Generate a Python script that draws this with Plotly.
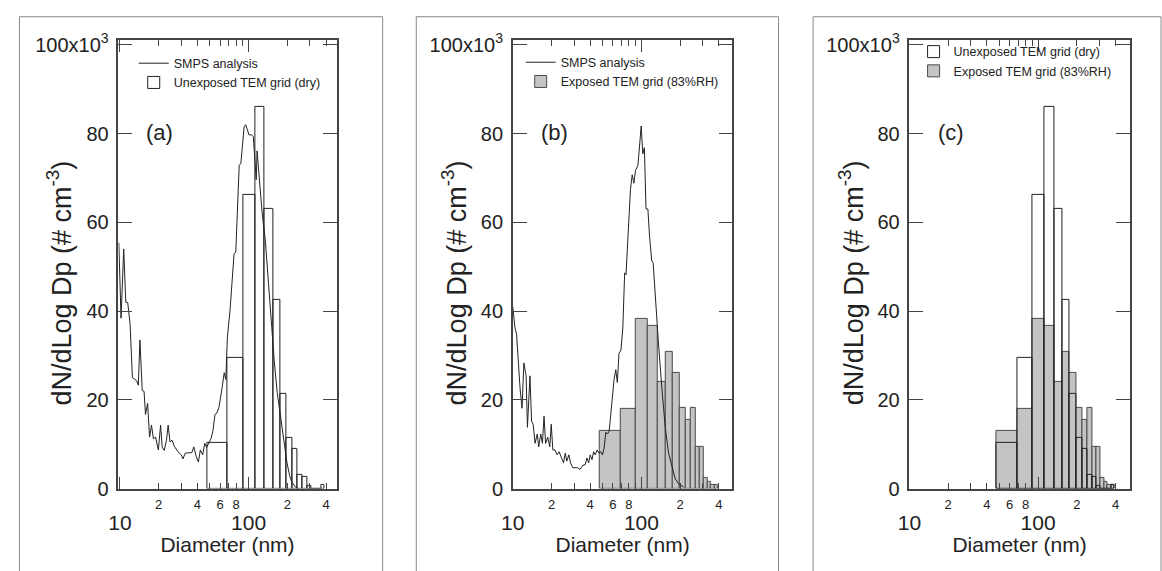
import plotly.graph_objects as go

FONT = "Liberation Sans, Arial, sans-serif"
INK = "#222222"
AXIS = "#444444"

# TEM size-distribution histogram: bin edges (nm) and dN/dlogDp (cm^-3) per bin
bin_edges = [47.5, 69, 90.5, 112, 133.5, 155, 176.5, 198, 219.5, 241, 262.5,
             284, 305.5, 327, 348.5, 370, 391.5]
unexposed_dry = [10300, 29500, 66200, 86000, 63000, 42600, 21400, 11500, 9000,
                 3200, 2700, 500, 0, 0, 0, 800]
exposed_83rh = [13000, 18000, 38200, 36600, 24100, 30700, 26000, 18200, 15500,
                18200, 9300, 9500, 2500, 1600, 900, 900]

# SMPS scans (diameter in nm, dN/dlogDp in cm^-3)
smps_a_dp = [9.8, 10.2, 10.7, 11.1, 11.5, 12.0, 12.5, 13.5, 13.9, 14.3, 14.9,
             15.4, 15.8, 16.4, 17.0, 17.6, 18.2, 18.9, 19.9, 20.7, 21.3, 22.1,
             23.0, 23.7, 24.5, 25.4, 26.6, 28.3, 30.0, 30.9, 32.2, 34.2, 36.2,
             37.5, 39.1, 40.7, 42.2, 44.0, 45.6, 47.2, 48.9, 51.0, 52.8, 54.8,
             56.7, 59.0, 62.1, 64.6, 66.5, 68.4, 71.6, 74.8, 77.1, 79.5, 82.0,
             84.5, 87.1, 89.7, 92.3, 95.0, 97.9, 100.7, 105.2, 108.8, 112.0,
             114.6, 116.4, 119.9, 127.2, 135.0, 143.4, 152.2, 158.7, 166.7,
             176.6, 187.3, 198.8, 208.5, 216.8, 230.1, 244.0]
smps_a_dn = [55400, 38400, 54000, 42000, 41900, 37000, 25000, 24300, 23300,
             33500, 22100, 21900, 16700, 19200, 11600, 14300, 11200, 11600,
             8700, 14300, 9300, 8600, 10900, 14300, 10500, 10900, 9400, 8300,
             7600, 6700, 8000, 8000, 8100, 9400, 7300, 6000, 8700, 7600, 10200,
             9300, 10300, 11200, 13000, 16700, 17000, 18500, 22500, 26100,
             24600, 34100, 39900, 47100, 52900, 53300, 64500, 72800, 73300,
             78300, 81500, 82000, 80800, 79700, 79700, 79300, 73900, 69600,
             76100, 71000, 62300, 55800, 45700, 34100, 28300, 21700, 16700,
             10900, 5800, 2900, 1500, 400, 0]

smps_b_dp = [10.0, 10.4, 10.7, 11.1, 11.4, 11.8, 12.2, 12.7, 13.0, 13.6, 14.0,
             14.4, 14.9, 15.5, 15.9, 16.5, 17.0, 17.5, 18.0, 18.7, 19.4, 19.9,
             20.5, 21.3, 22.1, 22.9, 23.8, 24.8, 25.6, 26.3, 27.3, 28.1, 29.3,
             30.7, 32.0, 33.3, 34.9, 36.6, 37.7, 38.9, 40.0, 41.3, 42.5, 43.7,
             45.3, 46.8, 48.3, 49.8, 51.3, 52.9, 54.5, 56.2, 58.8, 61.3, 63.2,
             65.0, 66.9, 69.3, 71.7, 74.1, 75.9, 78.3, 82.2, 84.8, 87.4, 90.0,
             93.9, 95.6, 99.6, 102.5, 105.5, 108.6, 112.3, 115.4, 120.1, 123.5,
             129.2, 135.8, 144.4, 153.2, 162.6, 172.7, 183.2, 194.5, 212.5]
smps_b_dn = [41000, 36200, 34800, 26100, 22500, 18100, 28300, 25400, 13800,
             25400, 15200, 14500, 10200, 12300, 9400, 12300, 10200, 16300,
             10200, 11600, 9400, 14500, 8700, 8700, 7600, 8300, 6900, 5800,
             8000, 6200, 7600, 5800, 4700, 4700, 4700, 4300, 5200, 5400, 6900,
             5800, 7600, 6500, 8300, 7600, 8700, 8000, 8300, 7600, 9100, 12700,
             12300, 13000, 19600, 24600, 26800, 23900, 30400, 31200, 36200,
             48600, 48200, 56500, 67400, 70700, 68800, 71700, 72800, 75400,
             81700, 75400, 76800, 63000, 63000, 57300, 51500, 50700, 41300,
             32600, 22500, 13800, 8000, 5100, 2200, 1100, 400]

# axis ticks
y_tickvals = [0, 20000, 40000, 60000, 80000, 100000]
y_ticktext = ["0", "20", "40", "60", "80", "100x10<sup>3</sup>"]
x_digit_vals = [20, 40, 60, 80, 200, 400]
x_digit_text = ["2", "4", "6", "8", "2", "4"]
x_unlabelled_vals = [30, 50, 70, 90, 300]
x_major_vals = [10, 100]
x_major_text = ["10", "100"]

panel_labels = ["(a)", "(b)", "(c)"]
y_title = "dN/dLog Dp (# cm<sup>-3</sup>)"
x_title = "Diameter (nm)"

bin_centers = [(lo + hi) / 2 for lo, hi in zip(bin_edges[:-1], bin_edges[1:])]
bin_widths = [hi - lo for lo, hi in zip(bin_edges[:-1], bin_edges[1:])]

W, H = 1162, 571
# plot-area pixel extents of each panel
panel_px = [(107.5, 328.0), (506.0, 728.0), (906.8, 1129.3)]
x_ranges = [[0.988, 2.684], [1.0, 2.708], [1.0, 2.711]]
y_top_px, y_bot_px = 32.0, 497.0
frames_px = [(7.5, 374.5), (408.5, 774.5), (809.5, 1161.0)]
legend_pos = [(123, 41), (514, 40), (911, 29)]
ytitle_x = [48, 447, 848]


def lg(i):
    return "legend" if i == 1 else f"legend{i}"


def unexposed_bar(i):
    return go.Bar(x=bin_centers, y=unexposed_dry, width=bin_widths,
                  name="Unexposed TEM grid (dry)",
                  marker=dict(color="rgba(255,255,255,0)",
                              line=dict(color=INK, width=1)),
                  xaxis=f"x{i}", yaxis=f"y{i}", legend=lg(i), legendrank=2)


def exposed_bar(i):
    return go.Bar(x=bin_centers, y=exposed_83rh, width=bin_widths,
                  name="Exposed TEM grid (83%RH)",
                  marker=dict(color="#c4c4c4", line=dict(color="#4a4a4a", width=1)),
                  xaxis=f"x{i}", yaxis=f"y{i}", legend=lg(i), legendrank=3)


def smps_line(i, dp, dn):
    return go.Scatter(x=dp, y=dn, mode="lines", name="SMPS analysis",
                      line=dict(color=INK, width=1),
                      xaxis=f"x{i}", yaxis=f"y{i}", legend=lg(i), legendrank=1)


fig = go.Figure()
# (a) SMPS vs unexposed grid
fig.add_trace(unexposed_bar(1))
fig.add_trace(smps_line(1, smps_a_dp, smps_a_dn))
# (b) SMPS vs exposed grid
fig.add_trace(exposed_bar(2))
fig.add_trace(smps_line(2, smps_b_dp, smps_b_dn))
# (c) both grids
fig.add_trace(exposed_bar(3))
fig.add_trace(unexposed_bar(3))

# empty traces so the decade-label axes (x4..x6) get drawn
for i in range(1, 4):
    fig.add_trace(go.Scatter(x=[None], y=[None], xaxis=f"x{i + 3}", yaxis=f"y{i}",
                             showlegend=False, hoverinfo="skip"))

layout = dict(
    width=W, height=H, autosize=False,
    margin=dict(l=0, r=0, t=0, b=0, pad=0),
    paper_bgcolor="white", plot_bgcolor="white",
    barmode="overlay", bargap=0,
    font=dict(family=FONT, color=INK),
    shapes=[], annotations=[],
)

ydom = [1 - y_bot_px / H, 1 - y_top_px / H]
for k in range(3):
    i = k + 1
    ov = i + 3
    x0, x1 = panel_px[k]
    xdom = [x0 / W, x1 / W]
    sfx = "" if i == 1 else str(i)
    layout[f"xaxis{sfx}"] = dict(
        domain=xdom, anchor=f"y{sfx}", type="log", range=x_ranges[k],
        tickmode="array", tickvals=x_digit_vals, ticktext=x_digit_text,
        ticks="inside", ticklen=6, tickwidth=1, tickcolor=AXIS,
        minor=dict(tickmode="array", tickvals=x_unlabelled_vals, ticks="inside",
                   ticklen=6, tickwidth=1, tickcolor=AXIS, showgrid=False),
        showline=True, linecolor=AXIS, linewidth=1.5, mirror="ticks",
        showgrid=False, zeroline=False,
        tickfont=dict(size=13, family=FONT, color=INK), ticklabelstandoff=3,
        title=dict(text=x_title, font=dict(size=21, family=FONT, color=INK),
                   standoff=26),
    )
    layout[f"xaxis{ov}"] = dict(
        overlaying=f"x{sfx}", anchor=f"y{sfx}", type="log", range=x_ranges[k],
        tickmode="array", tickvals=x_major_vals, ticktext=x_major_text,
        ticks="inside", ticklen=12, tickwidth=1, tickcolor=AXIS,
        showline=False, mirror="ticks", showgrid=False, zeroline=False,
        tickfont=dict(size=21, family=FONT, color=INK), ticklabelstandoff=19,
    )
    layout[f"yaxis{sfx}"] = dict(
        domain=ydom, anchor=f"x{sfx}", range=[0, 101100],
        tickmode="array", tickvals=y_tickvals, ticktext=y_ticktext,
        ticks="inside", ticklen=14, tickwidth=1, tickcolor=AXIS,
        showline=True, linecolor=AXIS, linewidth=1.5, mirror="ticks",
        showgrid=False, zeroline=False,
        tickfont=dict(size=20, family=FONT, color=INK), ticklabelstandoff=4,
    )
    lx, ly = legend_pos[k]
    layout[lg(i)] = dict(
        x=lx / W, y=1 - ly / H, xanchor="left", yanchor="top",
        xref="paper", yref="paper",
        bgcolor="rgba(0,0,0,0)", borderwidth=0, tracegroupgap=0,
        font=dict(size=12.5, family=FONT, color=INK), itemwidth=30,
    )
    fx0, fx1 = frames_px[k]
    layout["shapes"].append(dict(
        type="rect", xref="paper", yref="paper",
        x0=fx0 / W, x1=fx1 / W, y0=-0.1, y1=1 - 8 / H,
        line=dict(color="#8a8a8a", width=1), fillcolor="rgba(0,0,0,0)",
        layer="below"))
    layout["annotations"].append(dict(
        text=panel_labels[k], xref=f"x{sfx} domain", yref=f"y{sfx} domain",
        x=0.19, y=0.794, xanchor="center", yanchor="middle", showarrow=False,
        font=dict(size=22, family=FONT, color=INK)))
    # rotated y-axis title
    layout["annotations"].append(dict(
        text=y_title, xref="paper", yref="paper",
        x=ytitle_x[k] / W, y=1 - 284 / H, xanchor="center", yanchor="middle",
        textangle=-90, showarrow=False,
        font=dict(size=27, family=FONT, color=INK)))

fig.update_layout(**layout)
fig.write_html("out.html")
